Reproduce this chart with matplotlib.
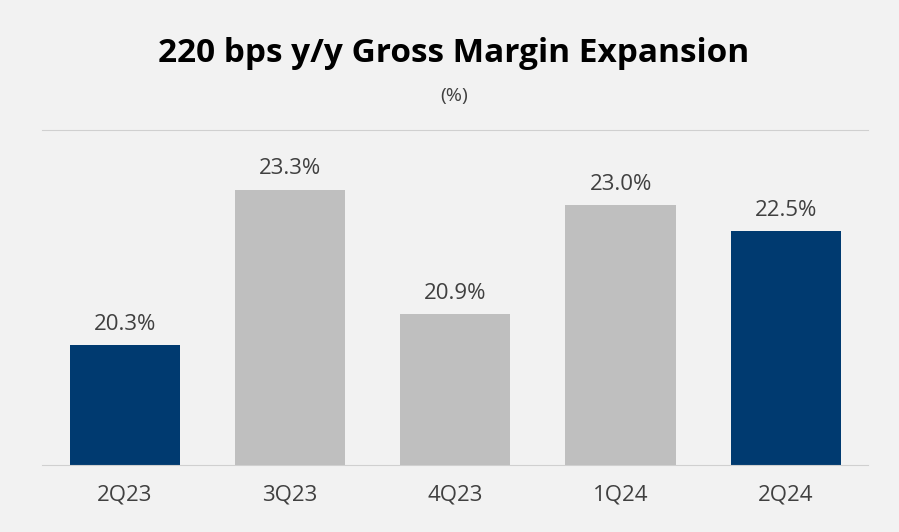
import matplotlib.pyplot as plt
import numpy as np

quarters = ['2Q23', '3Q23', '4Q23', '1Q24', '2Q24']
margin = [20.3, 23.3, 20.9, 23.0, 22.5]
colors = ['#003a70', '#bfbfbf', '#bfbfbf', '#bfbfbf', '#003a70']

plt.rcParams['font.family'] = ['Open Sans', 'DejaVu Sans']

fig = plt.figure(figsize=(8.99, 5.32), dpi=100)
fig.patch.set_facecolor('#f2f2f2')
ax = fig.add_axes([0.047, 0.126, 0.919, 0.630])
ax.set_facecolor('#f2f2f2')

x = np.arange(len(quarters))
ax.bar(x, margin, width=0.667, color=colors, bottom=0)
for xi, v in zip(x, margin):
    ax.text(xi, v + 0.2, f'{v:.1f}%', ha='center', va='bottom', fontsize=16, color='#404040')

ax.set_ylim(18, 24.45)
ax.set_xlim(-0.5, 4.5)
ax.set_xticks(x)
ax.set_xticklabels(quarters, fontsize=16, color='#404040')
ax.tick_params(axis='x', length=0, pad=14)
ax.set_yticks([])
for s in ['left', 'right']:
    ax.spines[s].set_visible(False)
ax.spines['top'].set_color('#d0d0d0')
ax.spines['bottom'].set_color('#d0d0d0')

fig.text(0.505, 0.90, '220 bps y/y Gross Margin Expansion', ha='center', va='center',
         fontsize=24, fontweight='bold', color='black')
fig.text(0.505, 0.82, '(%)', ha='center', va='center', fontsize=14, color='#404040')

fig.savefig('out.png', dpi=100, facecolor=fig.get_facecolor())
